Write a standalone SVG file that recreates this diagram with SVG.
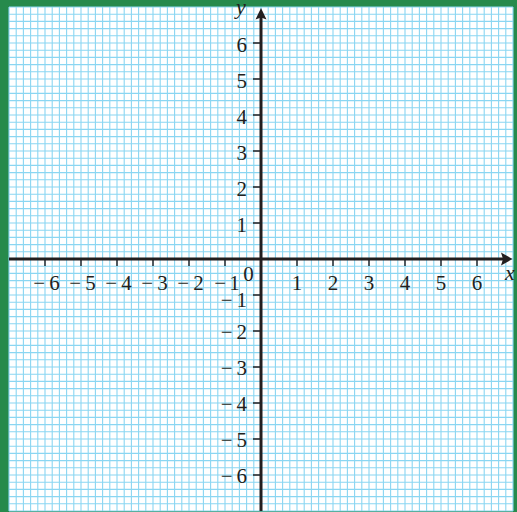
<svg xmlns="http://www.w3.org/2000/svg" width="517" height="512" viewBox="0 0 517 512">
<style>
.grid{stroke:#8ad6f2;stroke-width:1.1;fill:none}
.ax{stroke:#231f20;stroke-width:3;fill:none}
.tk{stroke:#231f20;stroke-width:1.4;fill:none}
.arr{fill:#231f20}
text{font-family:"Liberation Serif","Times New Roman",serif;font-size:21px;fill:#231f20}
.xl{text-anchor:middle}
.yl{text-anchor:end}
.var{font-style:italic;font-size:22px}
</style>
<rect x="0" y="0" width="517" height="512" fill="#268a4c"/>
<rect x="9" y="7" width="504" height="504" fill="#ffffff"/>
<g id="grid">
<path class="grid" d="M9 7V511M16.2 7V511M23.4 7V511M30.6 7V511M37.8 7V511M45 7V511M52.2 7V511M59.4 7V511M66.6 7V511M73.8 7V511M81 7V511M88.2 7V511M95.4 7V511M102.6 7V511M109.8 7V511M117 7V511M124.2 7V511M131.4 7V511M138.6 7V511M145.8 7V511M153 7V511M160.2 7V511M167.4 7V511M174.6 7V511M181.8 7V511M189 7V511M196.2 7V511M203.4 7V511M210.6 7V511M217.8 7V511M225 7V511M232.2 7V511M239.4 7V511M246.6 7V511M253.8 7V511M261 7V511M268.2 7V511M275.4 7V511M282.6 7V511M289.8 7V511M297 7V511M304.2 7V511M311.4 7V511M318.6 7V511M325.8 7V511M333 7V511M340.2 7V511M347.4 7V511M354.6 7V511M361.8 7V511M369 7V511M376.2 7V511M383.4 7V511M390.6 7V511M397.8 7V511M405 7V511M412.2 7V511M419.4 7V511M426.6 7V511M433.8 7V511M441 7V511M448.2 7V511M455.4 7V511M462.6 7V511M469.8 7V511M477 7V511M484.2 7V511M491.4 7V511M498.6 7V511M505.8 7V511M513 7V511"/>
<path class="grid" d="M9 7H513M9 14.2H513M9 21.4H513M9 28.6H513M9 35.8H513M9 43H513M9 50.2H513M9 57.4H513M9 64.6H513M9 71.8H513M9 79H513M9 86.2H513M9 93.4H513M9 100.6H513M9 107.8H513M9 115H513M9 122.2H513M9 129.4H513M9 136.6H513M9 143.8H513M9 151H513M9 158.2H513M9 165.4H513M9 172.6H513M9 179.8H513M9 187H513M9 194.2H513M9 201.4H513M9 208.6H513M9 215.8H513M9 223H513M9 230.2H513M9 237.4H513M9 244.6H513M9 251.8H513M9 259H513M9 266.2H513M9 273.4H513M9 280.6H513M9 287.8H513M9 295H513M9 302.2H513M9 309.4H513M9 316.6H513M9 323.8H513M9 331H513M9 338.2H513M9 345.4H513M9 352.6H513M9 359.8H513M9 367H513M9 374.2H513M9 381.4H513M9 388.6H513M9 395.8H513M9 403H513M9 410.2H513M9 417.4H513M9 424.6H513M9 431.8H513M9 439H513M9 446.2H513M9 453.4H513M9 460.6H513M9 467.8H513M9 475H513M9 482.2H513M9 489.4H513M9 496.6H513M9 503.8H513M9 511H513"/>
</g>
<g id="axes">
<path class="ax" d="M9 259H504"/>
<path class="ax" d="M261 511V17"/>
<path class="arr" d="M512.5 259L501 252.5L503 259L501 265.5Z"/>
<path class="arr" d="M261 8L255.5 19.5L261 17.5L266.5 19.5Z"/>
<path class="tk" d="M45 259V266M81 259V266M117 259V266M153 259V266M189 259V266M225 259V266M297 259V266M333 259V266M369 259V266M405 259V266M441 259V266M477 259V266"/>
<path class="tk" d="M253 43H261M253 79H261M253 115H261M253 151H261M253 187H261M253 223H261M253 295H261M253 331H261M253 367H261M253 403H261M253 439H261M253 475H261"/>
</g>
<g id="labels">
<text class="xl" x="46.5" y="290">−<tspan dx="4">6</tspan></text>
<text class="xl" x="82.5" y="290">−<tspan dx="4">5</tspan></text>
<text class="xl" x="118.5" y="290">−<tspan dx="4">4</tspan></text>
<text class="xl" x="154.5" y="290">−<tspan dx="4">3</tspan></text>
<text class="xl" x="190.5" y="290">−<tspan dx="4">2</tspan></text>
<text class="xl" x="227" y="290">−<tspan dx="3">1</tspan></text>
<text class="xl" x="248.5" y="281">0</text>
<text class="xl" x="297" y="290">1</text>
<text class="xl" x="333" y="290">2</text>
<text class="xl" x="369" y="290">3</text>
<text class="xl" x="405" y="290">4</text>
<text class="xl" x="441" y="290">5</text>
<text class="xl" x="477" y="290">6</text>
<text class="yl" x="247" y="52">6</text>
<text class="yl" x="247" y="88">5</text>
<text class="yl" x="247" y="124">4</text>
<text class="yl" x="247" y="160">3</text>
<text class="yl" x="247" y="196">2</text>
<text class="yl" x="247" y="232">1</text>
<text class="yl" x="247" y="307">−<tspan dx="4">1</tspan></text>
<text class="yl" x="247" y="339">−<tspan dx="4">2</tspan></text>
<text class="yl" x="247" y="375">−<tspan dx="4">3</tspan></text>
<text class="yl" x="247" y="411">−<tspan dx="4">4</tspan></text>
<text class="yl" x="247" y="447">−<tspan dx="4">5</tspan></text>
<text class="yl" x="247" y="483">−<tspan dx="4">6</tspan></text>
<text class="var" x="236" y="14">y</text>
<text class="var" x="505" y="280">x</text>
</g>
</svg>
